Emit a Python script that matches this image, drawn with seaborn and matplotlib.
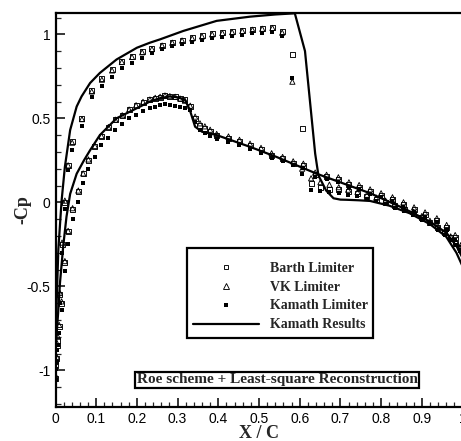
import matplotlib
matplotlib.use("Agg")
import matplotlib.pyplot as plt
import numpy as np
import pandas as pd
import seaborn as sns
from matplotlib.lines import Line2D
from matplotlib.patches import Rectangle
from matplotlib.ticker import MultipleLocator, FuncFormatter

# ---- Kamath reference solution (solid lines) ----
kam_up_x = [0.000, 0.003, 0.007, 0.015, 0.023, 0.036, 0.052, 0.064, 0.085, 0.109,
            0.150, 0.200, 0.232, 0.257, 0.314, 0.396, 0.478, 0.540, 0.588, 0.613,
            0.638, 0.646, 0.665, 0.683, 0.700, 0.715, 0.745, 0.773, 0.820, 0.870,
            0.920, 0.960, 0.985, 1.000]
kam_up_cp = [-0.88, -0.58, -0.28, 0.01, 0.21, 0.43, 0.57, 0.63, 0.71, 0.77,
             0.85, 0.92, 0.95, 0.97, 1.02, 1.08, 1.105, 1.118, 1.125, 0.90,
             0.29, 0.16, 0.07, 0.024, 0.016, 0.015, 0.012, 0.008, -0.02, -0.065,
             -0.13, -0.205, -0.30, -0.38]
kam_lo_x = [0.000, 0.007, 0.011, 0.019, 0.027, 0.036, 0.052, 0.070, 0.085, 0.109,
            0.150, 0.208, 0.232, 0.257, 0.280, 0.300, 0.318, 0.330, 0.343, 0.360,
            0.396, 0.478, 0.543, 0.642, 0.773, 0.854, 0.920, 0.961, 0.986, 1.000]
kam_lo_cp = [-0.88, -0.64, -0.48, -0.26, -0.086, 0.05, 0.17, 0.25, 0.31, 0.40,
             0.50, 0.57, 0.60, 0.62, 0.63, 0.625, 0.61, 0.55, 0.45, 0.42,
             0.40, 0.33, 0.27, 0.17, 0.054, -0.034, -0.115, -0.183, -0.264, -0.33]

# ---- computed surface points: upper surface ----
x_up = [0.000, 0.003, 0.006, 0.011, 0.016, 0.023, 0.031, 0.041, 0.065, 0.089,
        0.114, 0.139, 0.163, 0.188, 0.213, 0.237, 0.262, 0.287, 0.311, 0.336,
        0.360, 0.385, 0.410, 0.434, 0.459, 0.484, 0.508, 0.533, 0.557, 0.582,
        0.606, 0.628, 0.651, 0.673, 0.696, 0.719, 0.742, 0.765, 0.788, 0.811,
        0.834, 0.857, 0.879, 0.900, 0.920, 0.939, 0.956, 0.971, 0.984, 0.994]
barth_up = [-1.05, -0.93, -0.82, -0.55, -0.25, 0.00, 0.22, 0.36, 0.50, 0.665,
            0.735, 0.790, 0.838, 0.868, 0.895, 0.915, 0.935, 0.953, 0.965, 0.978,
            0.990, 1.002, 1.010, 1.015, 1.022, 1.030, 1.035, 1.040, 1.015, 0.877,
            0.440, 0.113, 0.091, 0.077, 0.077, 0.063, 0.054, 0.035, 0.018, 0.000,
            -0.020, -0.042, -0.066, -0.092, -0.120, -0.150, -0.182, -0.212, -0.243, -0.275]
vk_up = [-1.03, -0.92, -0.80, -0.54, -0.24, 0.01, 0.22, 0.355, 0.495, 0.66,
         0.73, 0.785, 0.835, 0.865, 0.893, 0.912, 0.933, 0.950, 0.963, 0.976,
         0.988, 1.000, 1.008, 1.013, 1.020, 1.027, 1.033, 1.038, 1.010, 0.718,
         0.200, 0.143, 0.120, 0.105, 0.090, 0.075, 0.062, 0.045, 0.028, 0.010,
         -0.010, -0.032, -0.056, -0.082, -0.110, -0.140, -0.172, -0.203, -0.235, -0.268]
kamlim_up = [-1.06, -0.95, -0.85, -0.60, -0.30, -0.04, 0.19, 0.31, 0.454, 0.625,
             0.692, 0.744, 0.798, 0.827, 0.857, 0.887, 0.910, 0.928, 0.940, 0.953,
             0.965, 0.978, 0.985, 0.990, 0.997, 1.005, 1.010, 1.015, 0.990, 0.738,
             0.170, 0.073, 0.070, 0.060, 0.055, 0.045, 0.035, 0.020, 0.005, -0.012,
             -0.032, -0.054, -0.078, -0.104, -0.132, -0.162, -0.194, -0.225, -0.257, -0.290]

# ---- computed surface points: lower surface ----
x_lo = [0.000, 0.004, 0.009, 0.015, 0.023, 0.031, 0.042, 0.056, 0.068, 0.081,
        0.097, 0.113, 0.130, 0.147, 0.164, 0.181, 0.198, 0.215, 0.232, 0.245,
        0.257, 0.269, 0.281, 0.294, 0.306, 0.318, 0.331, 0.343, 0.355, 0.367,
        0.380, 0.396, 0.425, 0.452, 0.478, 0.505, 0.531, 0.558, 0.584, 0.609,
        0.638, 0.666, 0.695, 0.721, 0.746, 0.773, 0.800, 0.828, 0.855, 0.881,
        0.908, 0.937, 0.961, 0.982, 0.996]
barth_lo = [-0.97, -0.85, -0.74, -0.60, -0.36, -0.175, -0.04, 0.067, 0.17, 0.25,
            0.33, 0.39, 0.445, 0.49, 0.515, 0.55, 0.575, 0.595, 0.609, 0.62,
            0.625, 0.638, 0.63, 0.63, 0.62, 0.609, 0.569, 0.50, 0.46, 0.44,
            0.42, 0.395, 0.38, 0.36, 0.337, 0.312, 0.28, 0.258, 0.232, 0.218,
            0.165, 0.152, 0.137, 0.107, 0.09, 0.065, 0.043, 0.018, -0.012, -0.042,
            -0.072, -0.108, -0.15, -0.21, -0.27]
vk_lo = [-0.95, -0.84, -0.73, -0.59, -0.35, -0.17, -0.035, 0.07, 0.172, 0.255,
         0.335, 0.395, 0.448, 0.492, 0.518, 0.552, 0.578, 0.598, 0.612, 0.622,
         0.628, 0.636, 0.632, 0.628, 0.618, 0.605, 0.575, 0.51, 0.47, 0.452,
         0.432, 0.407, 0.392, 0.372, 0.349, 0.324, 0.292, 0.27, 0.244, 0.23,
         0.177, 0.164, 0.149, 0.119, 0.103, 0.077, 0.054, 0.030, 0.000, -0.030,
         -0.060, -0.095, -0.135, -0.195, -0.255]
kamlim_lo = [-0.99, -0.88, -0.78, -0.64, -0.41, -0.25, -0.10, 0.0, 0.113, 0.20,
             0.27, 0.34, 0.38, 0.43, 0.465, 0.50, 0.52, 0.545, 0.56, 0.57,
             0.58, 0.585, 0.58, 0.575, 0.57, 0.56, 0.55, 0.48, 0.43, 0.41,
             0.395, 0.375, 0.36, 0.34, 0.32, 0.295, 0.265, 0.243, 0.22, 0.205,
             0.15, 0.138, 0.122, 0.094, 0.077, 0.052, 0.03, 0.005, -0.025, -0.055,
             -0.085, -0.12, -0.165, -0.225, -0.285]

x_ticks = [0, 0.1, 0.2, 0.3, 0.4, 0.5, 0.6, 0.7, 0.8, 0.9, 1.0]
y_ticks = [-1, -0.5, 0, 0.5, 1]

labels = ["Barth Limiter", "VK Limiter", "Kamath Limiter", "Kamath Results"]
note = "Roe scheme + Least-square Reconstruction"


def surface_frame(xu, yu, xl, yl):
    return pd.DataFrame({
        "x": list(xu) + list(xl),
        "cp": list(yu) + list(yl),
        "surface": ["upper"] * len(xu) + ["lower"] * len(xl),
    })


barth = surface_frame(x_up, barth_up, x_lo, barth_lo)
vk = surface_frame(x_up, vk_up, x_lo, vk_lo)
kamlim = surface_frame(x_up, kamlim_up, x_lo, kamlim_lo)
kam_line = surface_frame(kam_up_x, kam_up_cp, kam_lo_x, kam_lo_cp)

sns.set_theme(style="ticks")
plt.rcParams["font.family"] = ["Liberation Sans", "DejaVu Sans"]
plt.rcParams["axes.unicode_minus"] = False

W, H = 461, 441
fig = plt.figure(figsize=(W / 100, H / 100), dpi=100)
px_left, px_right, px_top, px_bot = 55.5, 462.5, 12.7, 406.7
ax = fig.add_axes([px_left / W, 1 - px_bot / H,
                   (px_right - px_left) / W, (px_bot - px_top) / H])

sns.lineplot(data=kam_line, x="x", y="cp", units="surface", estimator=None,
             sort=False, color="black", lw=1.6, ax=ax, legend=False, zorder=3)
sns.scatterplot(data=barth, x="x", y="cp", marker="s", s=13, fc="none",
                ec="black", linewidth=0.65, ax=ax, legend=False, zorder=4)
sns.scatterplot(data=vk, x="x", y="cp", marker="^", s=14, fc="none",
                ec="black", linewidth=0.65, ax=ax, legend=False, zorder=4)
sns.scatterplot(data=kamlim, x="x", y="cp", marker="s", s=5.5, color="black",
                linewidth=0, ax=ax, legend=False, zorder=4)

ax.set_xlim(0, 1)
ax.set_ylim(-(px_bot - 202.3) / 168.0, (202.3 - px_top) / 168.0)
ax.set_xticks(x_ticks)
ax.set_yticks(y_ticks)
ax.xaxis.set_minor_locator(MultipleLocator(0.02))
ax.yaxis.set_minor_locator(MultipleLocator(0.1))
fmt = FuncFormatter(lambda v, p: f"{v:g}")
ax.xaxis.set_major_formatter(fmt)
ax.yaxis.set_major_formatter(fmt)
ax.tick_params(which="major", direction="in", length=6.5, width=1.1,
               labelsize=10, pad=3.5, colors="black")
ax.tick_params(which="minor", direction="in", length=3.6, width=0.9)
ax.tick_params(top=False, right=False, which="both")
for side in ["left", "bottom", "top", "right"]:
    ax.spines[side].set_linewidth(1.6)
    ax.spines[side].set_color("black")
ax.set_xlabel("")
ax.set_ylabel("")

serif_bold = dict(family=["Liberation Serif", "DejaVu Serif"], weight="bold")
fig.text(259 / W, 1 - 433.5 / H, "X / C", ha="center", va="center",
         fontsize=13, **serif_bold)
fig.text(23 / W, 1 - 210 / H, "-Cp", ha="center", va="center",
         rotation=90, fontsize=13, **serif_bold)

# legend frame box
ax.add_patch(Rectangle((186.7 / W, 1 - 337.7 / H), (373 - 186.7) / W, 90 / H,
                       transform=fig.transFigure, fc="white", ec="black",
                       lw=1.6, clip_on=False, zorder=5))
handles = [
    Line2D([], [], ls="none", marker="s", ms=3.5, mfc="none", mec="black", mew=0.65),
    Line2D([], [], ls="none", marker="^", ms=3.8, mfc="none", mec="black", mew=0.65),
    Line2D([], [], ls="none", marker="s", ms=2.3, mfc="black", mec="black", mew=0),
    Line2D([], [], color="black", lw=1.6),
]
leg = ax.legend(handles=handles, labels=labels, loc="center left",
                bbox_to_anchor=(193 / W, 1 - 296.5 / H),
                bbox_transform=fig.transFigure, borderaxespad=0,
                frameon=False,
                prop=dict(family=["Liberation Serif", "DejaVu Serif"],
                          weight="bold", size=10),
                handlelength=4.75, handletextpad=0.8, labelspacing=0.43,
                borderpad=0)
leg.set_zorder(6)

fig.text(277 / W, 1 - 380 / H, note, ha="center", va="center",
         fontsize=11, **serif_bold,
         bbox=dict(boxstyle="square,pad=0.12", fc="white", ec="black", lw=1.6))

fig.savefig("out.png", dpi=100)
